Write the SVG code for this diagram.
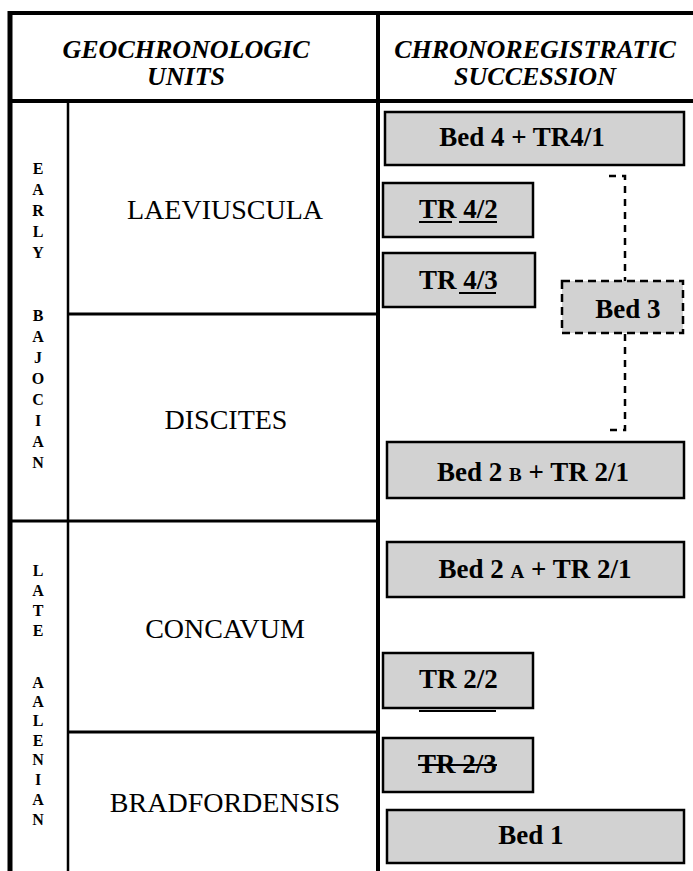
<svg xmlns="http://www.w3.org/2000/svg" width="693" height="871" viewBox="0 0 693 871">
<style>
.frame{stroke:#000;fill:none;stroke-linecap:butt}
.hdr{font-family:"Liberation Serif","Times New Roman",serif;font-weight:bold;font-style:italic;font-size:26px;text-anchor:middle;fill:#000}
.zone{font-family:"Liberation Serif","Times New Roman",serif;font-size:28px;text-anchor:middle;fill:#000}
.vl{font-family:"Liberation Serif","Times New Roman",serif;font-weight:bold;font-size:16px;text-anchor:middle;fill:#000}
.box{fill:#d2d2d2;stroke:#000;stroke-width:2.5}
.lbl{font-family:"Liberation Serif","Times New Roman",serif;font-weight:bold;font-size:27px;fill:#000}
.mid{text-anchor:middle}
.ul{stroke:#000;stroke-width:1.8}
.dash{stroke:#000;stroke-width:2.5;fill:none;stroke-dasharray:7 6}
</style>
<g id="frame">
<path class="frame" stroke-width="4" d="M8 13H693"/>
<path class="frame" stroke-width="5" d="M10 11V871"/>
<path class="frame" stroke-width="4" d="M378 11V871"/>
<path class="frame" stroke-width="4" d="M10 101H693"/>
<path class="frame" stroke-width="2.5" d="M68 99V871"/>
<path class="frame" stroke-width="3" d="M68 314H376"/>
<path class="frame" stroke-width="3" d="M10 521H376"/>
<path class="frame" stroke-width="3" d="M68 732H376"/>
</g>
<g id="headers">
<text class="hdr" x="186" y="58">GEOCHRONOLOGIC</text>
<text class="hdr" x="186" y="85">UNITS</text>
<text class="hdr" x="535" y="58">CHRONOREGISTRATIC</text>
<text class="hdr" x="535" y="85">SUCCESSION</text>
</g>
<g id="stage-early-bajocian">
<text class="vl" x="38" y="174">E</text>
<text class="vl" x="38" y="195">A</text>
<text class="vl" x="38" y="216">R</text>
<text class="vl" x="38" y="237">L</text>
<text class="vl" x="38" y="258">Y</text>
<text class="vl" x="38" y="321">B</text>
<text class="vl" x="38" y="342">A</text>
<text class="vl" x="38" y="363">J</text>
<text class="vl" x="38" y="384">O</text>
<text class="vl" x="38" y="405">C</text>
<text class="vl" x="38" y="426">I</text>
<text class="vl" x="38" y="447">A</text>
<text class="vl" x="38" y="468">N</text>
</g>
<g id="stage-late-aalenian">
<text class="vl" x="38" y="576">L</text>
<text class="vl" x="38" y="596">A</text>
<text class="vl" x="38" y="616">T</text>
<text class="vl" x="38" y="636">E</text>
<text class="vl" x="38" y="688">A</text>
<text class="vl" x="38" y="707">A</text>
<text class="vl" x="38" y="726">L</text>
<text class="vl" x="38" y="746">E</text>
<text class="vl" x="38" y="765">N</text>
<text class="vl" x="38" y="785">I</text>
<text class="vl" x="38" y="805">A</text>
<text class="vl" x="38" y="825">N</text>
</g>
<g id="zone-laeviuscula"><text class="zone" x="225" y="219">LAEVIUSCULA</text></g>
<g id="zone-discites"><text class="zone" x="226" y="429">DISCITES</text></g>
<g id="zone-concavum"><text class="zone" x="225" y="638">CONCAVUM</text></g>
<g id="zone-bradfordensis"><text class="zone" x="225" y="812">BRADFORDENSIS</text></g>
<g id="connectors">
<path class="dash" d="M609 176H625V281"/>
<path class="dash" d="M625 334V430H608"/>
</g>
<g id="bed4-tr41">
<rect class="box" x="385" y="112" width="299" height="53"/>
<text class="lbl mid" x="522" y="146">Bed 4 + TR4/1</text>
</g>
<g id="tr42">
<rect class="box" x="383" y="183" width="150" height="54"/>
<text class="lbl" x="419" y="218">TR 4/2</text>
<path class="ul" d="M419 222H452M459 222H497"/>
</g>
<g id="tr43">
<rect class="box" x="383" y="253" width="152" height="54"/>
<text class="lbl" x="419" y="289">TR 4/3</text>
<path class="ul" d="M459 293H496"/>
</g>
<g id="bed3">
<rect class="box" x="562" y="281" width="121" height="52" stroke-dasharray="8 5"/>
<text class="lbl mid" x="628" y="318">Bed 3</text>
</g>
<g id="bed2b-tr21">
<rect class="box" x="387" y="442" width="297" height="56"/>
<text class="lbl mid" x="533" y="481">Bed 2 <tspan font-size="19">B</tspan> + TR 2/1</text>
</g>
<g id="bed2a-tr21">
<rect class="box" x="387" y="542" width="297" height="55"/>
<text class="lbl mid" x="535" y="578">Bed 2 <tspan font-size="19">A</tspan> + TR 2/1</text>
</g>
<g id="tr22">
<rect class="box" x="383" y="653" width="150" height="55"/>
<text class="lbl" x="419" y="688">TR 2/2</text>
<path class="ul" d="M419 711H496"/>
</g>
<g id="tr23">
<rect class="box" x="383" y="738" width="150" height="54"/>
<text class="lbl" x="418" y="773">TR 2/3</text>
<path class="ul" d="M418 765H497"/>
</g>
<g id="bed1">
<rect class="box" x="387" y="810" width="297" height="53"/>
<text class="lbl mid" x="531" y="844">Bed 1</text>
</g>
</svg>
